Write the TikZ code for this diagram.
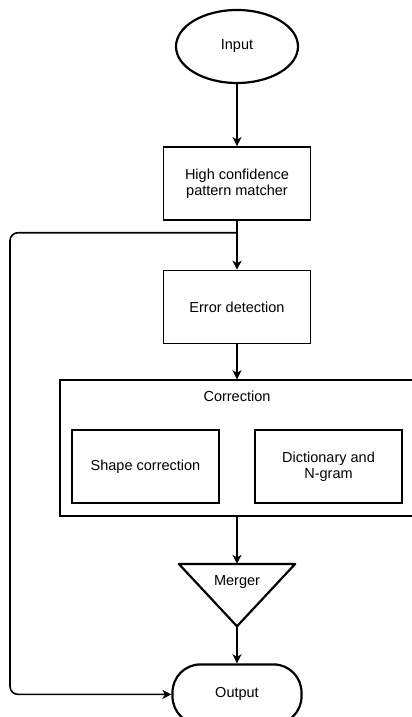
\documentclass[tikz,border=0pt]{standalone}
\usepackage{fontspec}
\setmainfont{Liberation Sans}
\usetikzlibrary{arrows.meta,positioning,shapes.geometric}

\begin{document}
\begin{tikzpicture}[
        x=1pt, y=1pt,
        node distance=40pt,
        font=\fontsize{14.5}{16}\selectfont,
        stepbox/.style={rectangle, draw, line width=1.6pt, minimum width=147pt, minimum height=73pt, align=center, inner sep=0pt},
        terminal/.style={ellipse, draw, line width=2.2pt, minimum width=122pt, minimum height=73pt},
        arrow/.style={-{Stealth[length=9pt,width=9pt,inset=2.5pt]}, line width=1.6pt}
        ]
        \useasboundingbox (0,0) rectangle (412,-717);

        \node[terminal] (input) at (237,-46.5) {Input};
        \node[stepbox, below=62pt of input] (matcher) {High confidence\\pattern matcher};
        \node[stepbox, below=49pt of matcher] (detect) {Error detection};
        \node[draw, line width=1.6pt, minimum width=354pt, minimum height=136pt, below=35pt of detect] (corr) {};
        \node[below=8pt of corr.north] (corrtitle) {Correction};
        \node[stepbox, below right=50pt and 12pt of corr.north west] (shape) {Shape correction};
        \node[stepbox, below left=50pt and 12pt of corr.north east] (dict) {Dictionary and\\N-gram};

        % merger triangle drawn on an empty node
        \node[minimum width=116pt, minimum height=62pt, inner sep=0pt, below=47pt of corr] (merger) {};
        \draw[line width=2.2pt, line join=round] (merger.north west) -- (merger.north east) -- (merger.south) -- cycle;
        \node[below=8pt of merger.north] (mergertext) {Merger};

        \node[draw, line width=2.2pt, rounded corners=28pt, minimum width=129pt, minimum height=60pt, below=37pt of merger] (output) {Output};

        \draw[arrow] (input) -- (matcher);
        \draw[arrow] (matcher) -- (detect);
        \draw[arrow] (detect) -- (corr);
        \draw[arrow] (corr) -- (merger.north);
        \draw[arrow] (merger.south) -- (output);

        % bypass to output
        \coordinate[below=12pt of matcher.south] (split);
        \coordinate (loop) at ([xshift=-227pt]split);
        \draw[arrow, rounded corners=8pt] (split) -- (loop) |- (output.west);
    \end{tikzpicture}
\end{document}
